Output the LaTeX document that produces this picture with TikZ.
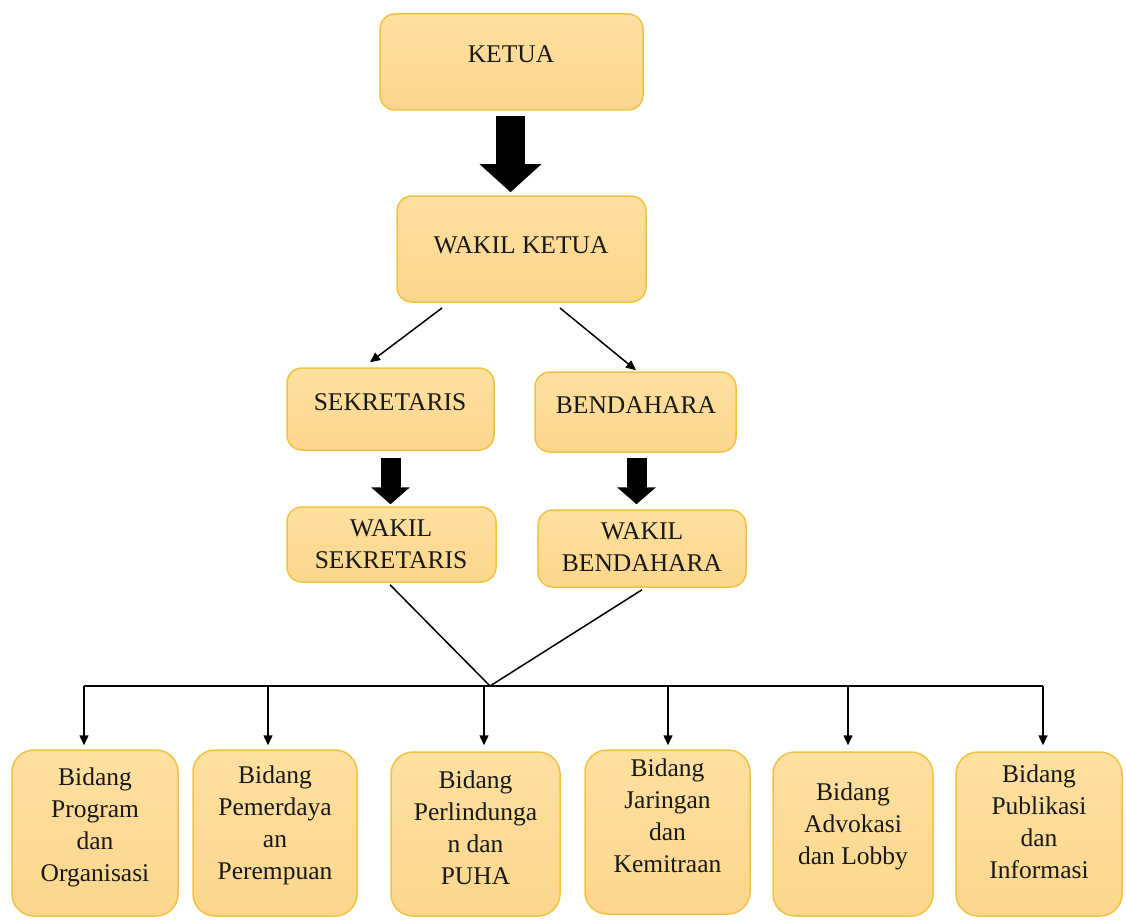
\documentclass[tikz,border=0pt]{standalone}
\usepackage{fontspec}
\setmainfont{Liberation Serif}
\usetikzlibrary{arrows.meta,calc}
\definecolor{boxfill}{RGB}{252,214,140}
\definecolor{boxtop}{RGB}{254,224,160}
\definecolor{boxline}{RGB}{242,194,70}
\tikzset{
  box/.style={draw=boxline, line width=1.5pt, top color=boxtop, bottom color=boxfill, rounded corners=15pt, inner sep=0pt},
  bbox/.style={box, rounded corners=22pt},
  lbl/.style={font=\fontsize{25.5}{32}\selectfont, align=center, inner sep=0pt, text=black!90},
  bigarrow/.style={line width=#1, -{Triangle[length=28pt,width=60pt]}},
  midarrow/.style={line width=20pt, -{Triangle[length=17pt,width=38pt]}},
  thin/.style={line width=1.5pt},
  thinarrow/.style={line width=1.5pt, -{Triangle[length=10pt,width=9pt]}}
}
\begin{document}
\begin{tikzpicture}[x=1pt,y=-1pt]
\fill[white] (0,0) rectangle (1126,920);
\useasboundingbox (0,0) rectangle (1126,920);
% top boxes
\node[box, minimum width=263pt, minimum height=96pt] (ketua) at (511.5,62) {};
\node[lbl] at (511,54) {KETUA};
\node[box, minimum width=249pt, minimum height=106pt] (wk) at (521.5,249) {};
\node[lbl] at (521,245) {WAKIL KETUA};
\node[box, minimum width=207pt, minimum height=82pt] (sek) at (390.5,409) {};
\node[lbl] at (390,402) {SEKRETARIS};
\node[box, minimum width=201pt, minimum height=80pt] (ben) at (635.5,412) {};
\node[lbl] at (636,405) {BENDAHARA};
\node[box, minimum width=209pt, minimum height=75pt] (wsek) at (391.5,544.5) {};
\node[lbl] at (391,544) {WAKIL\\SEKRETARIS};
\node[box, minimum width=208pt, minimum height=77pt] (wben) at (642,548.5) {};
\node[lbl] at (642,547) {WAKIL\\BENDAHARA};
% bottom boxes
\node[bbox, minimum width=166pt, minimum height=166pt] (b1) at (95,833) {};
\node[lbl] at (95,827) {Bidang\\Program\\dan\\Organisasi};
\node[bbox, minimum width=164pt, minimum height=166pt] (b2) at (275,833) {};
\node[lbl] at (275,825) {Bidang\\Pemerdaya\\an\\Perempuan};
\node[bbox, minimum width=169pt, minimum height=164pt] (b3) at (475.5,834) {};
\node[lbl] at (475.5,828) {Bidang\\Perlindunga\\n dan\\PUHA};
\node[bbox, minimum width=165pt, minimum height=164pt] (b4) at (667.5,832) {};
\node[lbl] at (667.5,816) {Bidang\\Jaringan\\dan\\Kemitraan};
\node[bbox, minimum width=160pt, minimum height=164pt] (b5) at (853,834) {};
\node[lbl] at (853,826) {Bidang\\Advokasi\\dan Lobby};
\node[bbox, minimum width=166pt, minimum height=164pt] (b6) at (1039,834) {};
\node[lbl] at (1039,822) {Bidang\\Publikasi\\dan\\Informasi};
% thick arrows
\draw[bigarrow=29pt] ($(ketua.south)+(-1,5)$) -- ($(wk.north)+(-11,-3)$);
\draw[midarrow] ($(sek.south)+(0,7)$) -- ($(wsek.north)+(-1,-2)$);
\draw[midarrow] ($(ben.south)+(1,5)$) -- ($(wben.north)+(-5.5,-5)$);
% thin arrows
\coordinate (wkl) at (442,308);
\coordinate (wkr) at (560,308);
\draw[thinarrow] (wkl) -- ($(sek.north)+(-20.5,-5)$);
\draw[thinarrow] (wkr) -- ($(ben.north)+(0.5,-1)$);
% hub
\coordinate (hub) at (490,686);
\draw[thin] ($(wsek.south)+(-1.5,2)$) -- (hub);
\draw[thin] ($(wben.south)+(0,2)$) -- (hub);
\coordinate (hl) at (84,686);
\coordinate (hr) at (1043,686);
\draw[thin] (hl) -- (hr);
\draw[thinarrow] (84,686) -- ($(b1.north)+(-11,-4)$);
\draw[thinarrow] (268,686) -- ($(b2.north)+(-7,-4)$);
\draw[thinarrow] (484,686) -- ($(b3.north)+(8.5,-6)$);
\draw[thinarrow] (668,686) -- ($(b4.north)+(0.5,-4)$);
\draw[thinarrow] (848,686) -- ($(b5.north)+(-5,-6)$);
\draw[thinarrow] (1043,686) -- ($(b6.north)+(4,-6)$);
\end{tikzpicture}
\end{document}
